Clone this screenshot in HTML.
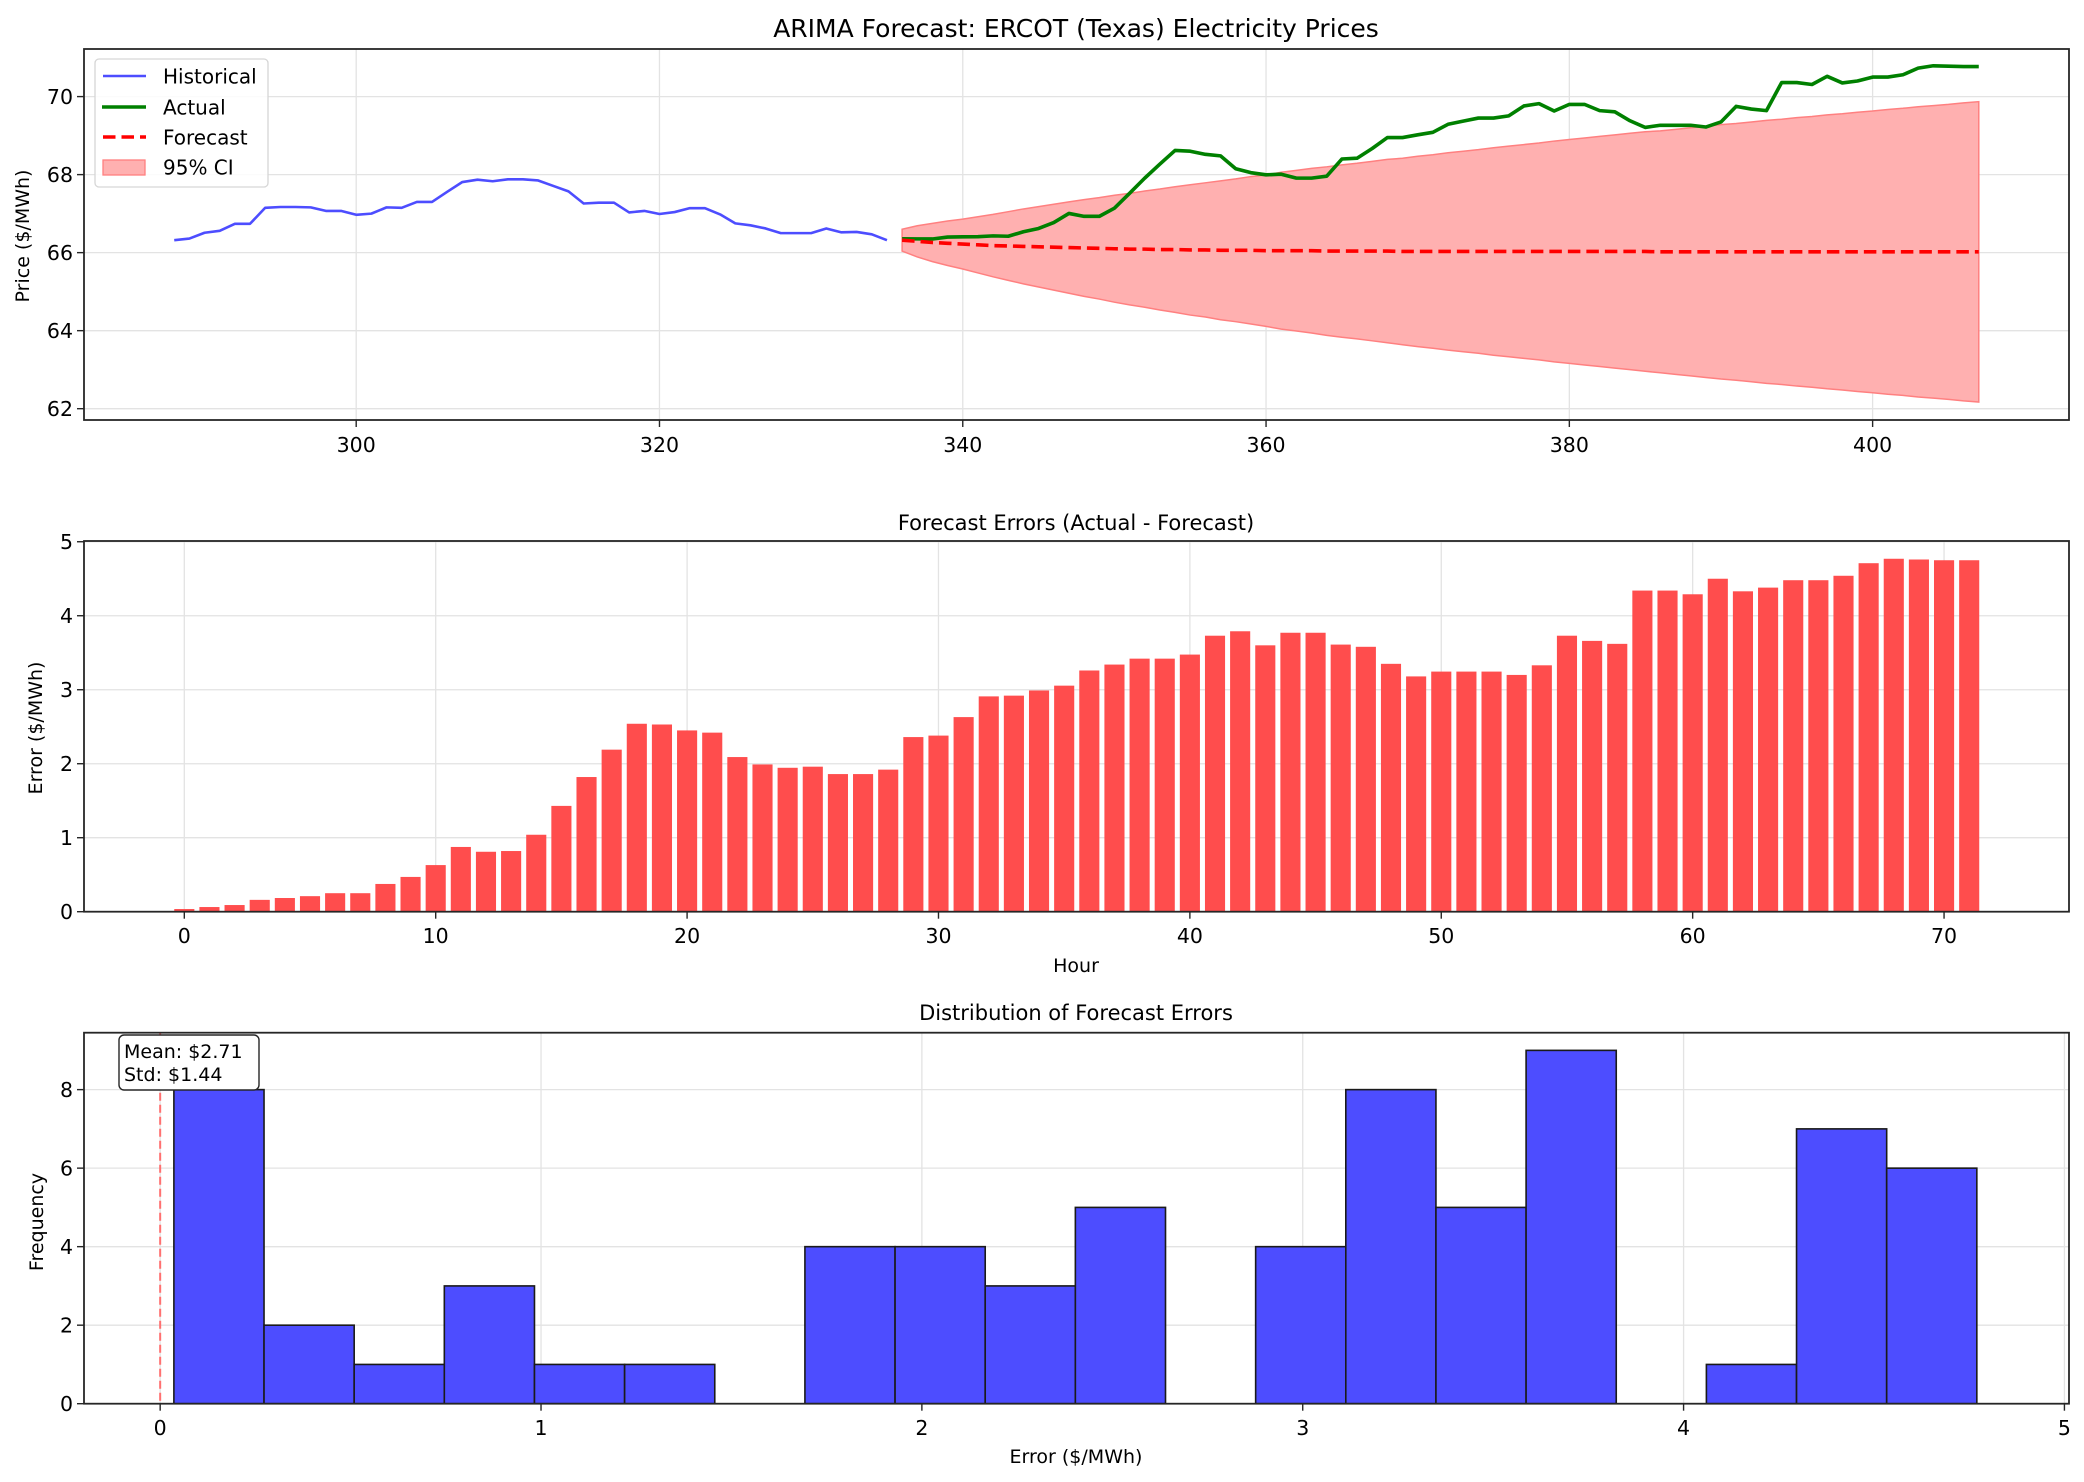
<!DOCTYPE html>
<html><head><meta charset="utf-8">
<style>
html,body{margin:0;padding:0;background:#fff;}
svg{display:block;font-family:"DejaVu Sans","Liberation Sans",sans-serif;}
</style></head>
<body>
<svg id="fig" width="2084" height="1482" viewBox="0 0 2084 1482" xmlns="http://www.w3.org/2000/svg">
<rect width="2084" height="1482" fill="#fff"/>
</svg>
<script>
// ---------- data ----------
const histHours = [288,289,290,291,292,293,294,295,296,297,298,299,300,301,302,303,304,305,306,307,308,309,310,311,312,313,314,315,316,317,318,319,320,321,322,323,324,325,326,327,328,329,330,331,332,333,334,335];
const histPrices = [66.32,66.36,66.51,66.56,66.74,66.74,67.15,67.17,67.17,67.16,67.07,67.07,66.97,67.0,67.16,67.15,67.3,67.3,67.56,67.81,67.87,67.83,67.88,67.88,67.85,67.71,67.57,67.26,67.28,67.28,67.03,67.07,66.99,67.04,67.14,67.14,66.98,66.75,66.70,66.62,66.50,66.50,66.50,66.62,66.52,66.53,66.47,66.32];
const forecast = [66.32,66.29,66.26,66.24,66.22,66.20,66.18,66.17,66.16,66.15,66.14,66.13,66.12,66.11,66.10,66.09,66.09,66.08,66.08,66.07,66.07,66.06,66.06,66.06,66.05,66.05,66.05,66.05,66.04,66.04,66.04,66.04,66.04,66.03,66.03,66.03,66.03,66.03,66.03,66.03,66.03,66.03,66.03,66.03,66.03,66.03,66.03,66.03,66.03,66.03,66.02,66.02,66.02,66.02,66.02,66.02,66.02,66.02,66.02,66.02,66.02,66.02,66.02,66.02,66.02,66.02,66.02,66.02,66.02,66.02,66.02,66.02];
const errors = [0.036,0.063,0.09,0.16,0.185,0.21,0.25,0.25,0.375,0.47,0.63,0.875,0.81,0.82,1.04,1.43,1.82,2.19,2.54,2.53,2.45,2.42,2.09,1.99,1.945,1.96,1.86,1.86,1.92,2.36,2.38,2.63,2.91,2.92,2.99,3.055,3.26,3.34,3.42,3.42,3.475,3.73,3.79,3.60,3.77,3.77,3.61,3.58,3.35,3.18,3.245,3.245,3.245,3.20,3.33,3.73,3.66,3.62,4.34,4.34,4.29,4.50,4.33,4.38,4.48,4.48,4.54,4.71,4.77,4.76,4.75,4.75];
const ciHalfWidth = [0.28,0.40,0.49,0.57,0.64,0.72,0.80,0.88,0.96,1.03,1.10,1.17,1.24,1.30,1.37,1.43,1.49,1.55,1.61,1.67,1.72,1.78,1.83,1.89,1.94,2.01,2.06,2.11,2.16,2.21,2.25,2.30,2.35,2.39,2.44,2.48,2.53,2.57,2.61,2.66,2.70,2.74,2.78,2.83,2.87,2.91,2.95,2.99,3.03,3.07,3.10,3.14,3.18,3.22,3.26,3.29,3.33,3.37,3.40,3.44,3.47,3.51,3.54,3.58,3.61,3.65,3.68,3.72,3.75,3.78,3.82,3.85];
const actual = forecast.map((f,i)=>+(f+errors[i]).toFixed(3));
const forecastHours = forecast.map((_,i)=>336+i);
const hoursIdx = errors.map((_,i)=>i);
const topXTicks = [300,320,340,360,380,400];
const topYTicks = [62,64,66,68,70];
const midXTicks = [0,10,20,30,40,50,60,70];
const midYTicks = [0,1,2,3,4,5];
const botXTicks = [0,1,2,3,4,5];
const botYTicks = [0,2,4,6,8];
const nBins = 20;

// ---------- helpers ----------
const NS = "http://www.w3.org/2000/svg";
const svg = document.getElementById('fig');
function el(tag, attrs, parent, text){
  const e = document.createElementNS(NS, tag);
  for (const k in attrs) e.setAttribute(k, attrs[k]);
  if (text !== undefined) e.textContent = text;
  (parent||svg).appendChild(e);
  return e;
}
function lin(d0,d1,r0,r1){ return v => r0 + (v-d0)/(d1-d0)*(r1-r0); }
const L = 84, R = 2069;

function frame(g, top, bottom){
  const r = el('rect',{x:L,y:top,width:R-L,height:bottom-top,fill:'none',stroke:'#262626','stroke-width':1.8},g);
  
  
}
function grid(g, xs, ys, top, bottom){
  xs.forEach(x=>{ const l=el('line',{x1:x,x2:x,y1:top,y2:bottom,stroke:'#e3e3e3','stroke-width':1.3},g);
      });
  ys.forEach(y=>{ const l=el('line',{x1:L,x2:R,y1:y,y2:y,stroke:'#e3e3e3','stroke-width':1.3},g);
      });
}
function ticks(g, xt, xs, yt, ys, bottom, xLabBase){
  xt.forEach((v,i)=>{
    const t=el('line',{x1:xs[i],x2:xs[i],y1:bottom,y2:bottom+7,stroke:'#262626','stroke-width':1.4},g);
     
    const tx=el('text',{x:xs[i],y:xLabBase,'font-size':20.5,'text-anchor':'middle',fill:'#000'},g,String(v));
     
  });
  yt.forEach((v,i)=>{
    const t=el('line',{x1:L-7,x2:L,y1:ys[i],y2:ys[i],stroke:'#262626','stroke-width':1.4},g);
     
    const tx=el('text',{x:L-11,y:ys[i]+7.5,'font-size':20.5,'text-anchor':'end',fill:'#000'},g,String(v));
     
  });
}

// ---------- top chart ----------
(function(){
  const top=49, bottom=420;
  const g = el('g',{});
  
  
  const x = lin(282.05,412.95,L,R);
  const y = lin(61.71,71.22,bottom,top);
  grid(g, topXTicks.map(x), topYTicks.map(y), top, bottom);
  let d = forecastHours.map((h,i)=>(i?'L':'M')+x(h)+','+y(forecast[i]+ciHalfWidth[i])).join(' ');
  for(let i=forecastHours.length-1;i>=0;i--) d += ' L'+x(forecastHours[i])+','+y(forecast[i]-ciHalfWidth[i]);
  const ci=el('path',{d:d+' Z',fill:'#ffb0b0',stroke:'#ff8080','stroke-width':1.5},g);
   
  const hp=el('polyline',{points:histHours.map((h,i)=>x(h)+','+y(histPrices[i])).join(' '),fill:'none',stroke:'#4d4dff','stroke-width':2.6,'stroke-linejoin':'round'},g);
   
  const ap=el('polyline',{points:forecastHours.map((h,i)=>x(h)+','+y(actual[i])).join(' '),fill:'none',stroke:'#008000','stroke-width':3.6,'stroke-linejoin':'round'},g);
   
  const fp=el('polyline',{points:forecastHours.map((h,i)=>x(h)+','+y(forecast[i])).join(' '),fill:'none',stroke:'#ff0000','stroke-width':3.6,'stroke-dasharray':'12.5 6'},g);
   
  frame(g, top, bottom);
  ticks(g, topXTicks, topXTicks.map(x), topYTicks, topYTicks.map(y), bottom, 452);
  const t=el('text',{x:1076,y:37,'font-size':25,'text-anchor':'middle'},g,'ARIMA Forecast: ERCOT (Texas) Electricity Prices');
   
  const yl=el('text',{x:0,y:0,'font-size':19,'text-anchor':'middle',transform:'translate(29,236) rotate(-90)'},g,'Price ($/MWh)');
   
  const lg=el('g',{},g);
   
  el('rect',{x:95,y:59,width:173,height:128,rx:4,fill:'#fff','fill-opacity':0.85,stroke:'#d6d6d6','stroke-width':1.3},lg);
  const items=[['Historical',76],['Actual',107],['Forecast',137],['95% CI',167]];
  el('line',{x1:103,x2:146,y1:76,y2:76,stroke:'#4d4dff','stroke-width':2.6},lg);
  el('line',{x1:102,x2:146,y1:107,y2:107,stroke:'#008000','stroke-width':3.6},lg);
  el('line',{x1:103,x2:146,y1:137,y2:137,stroke:'#ff0000','stroke-width':3.6,'stroke-dasharray':'12.5 6'},lg);
  el('rect',{x:103,y:160,width:42,height:15,fill:'#ffb0b0',stroke:'#ff8080','stroke-width':1.3},lg);
  items.forEach(it=>{
    const e=el('text',{x:163,y:it[1]+7.5,'font-size':20},lg,it[0]);
     
  });
})();

// ---------- middle chart ----------
(function(){
  const top=541, bottom=911.7;
  const g = el('g',{});
  
  
  const x = lin(-3.99,74.97,L,R);
  const y = lin(0,5.01,bottom,top);
  grid(g, midXTicks.map(x), midYTicks.map(y), top, bottom);
  hoursIdx.forEach((h,i)=>{
    const b=el('rect',{x:x(h-0.4),y:y(errors[i]),width:x(0.8)-x(0),height:bottom-y(errors[i]),fill:'#ff4d4d'},g);
     
  });
  frame(g, top, bottom);
  ticks(g, midXTicks, midXTicks.map(x), midYTicks, midYTicks.map(y), bottom, 943);
  const t=el('text',{x:1076,y:530,'font-size':21,'text-anchor':'middle'},g,'Forecast Errors (Actual - Forecast)');
   
  const xl=el('text',{x:1076,y:972,'font-size':19,'text-anchor':'middle'},g,'Hour');
   
  const yl=el('text',{x:0,y:0,'font-size':19,'text-anchor':'middle',transform:'translate(42,728) rotate(-90)'},g,'Error ($/MWh)');
   
})();

// ---------- bottom chart ----------
(function(){
  const top=1032.7, bottom=1403.7;
  const g = el('g',{});
  
  
  const x = lin(-0.2,5.012,L,R);
  const y = lin(0,9.45,bottom,top);
  grid(g, botXTicks.map(x), botYTicks.map(y), top, bottom);
  const mn=Math.min(...errors), mx=Math.max(...errors), w=(mx-mn)/nBins;
  const counts=new Array(nBins).fill(0);
  errors.forEach(e=>{ let k=Math.floor((e-mn)/w); if(k>=nBins)k=nBins-1; counts[k]++; });
  counts.forEach((c,k)=>{
    const x0=x(mn+k*w), x1=x(mn+(k+1)*w);
    const b=el('rect',{x:x0,y:y(c),width:x1-x0,height:bottom-y(c),fill:'#4d4dff',stroke:'#1a1a1a','stroke-width':1.6},g);
     
  });
  const zl=el('line',{x1:x(0),x2:x(0),y1:top,y2:bottom,stroke:'#ff7070','stroke-width':2,'stroke-dasharray':'8 4'},g);
   
  frame(g, top, bottom);
  ticks(g, botXTicks, botXTicks.map(x), botYTicks, botYTicks.map(y), bottom, 1435);
  const box=el('g',{},g);
   
  el('rect',{x:119,y:1035,width:140,height:55,rx:5,fill:'#fff',stroke:'#262626','stroke-width':1.4},box);
  el('text',{x:124,y:1058,'font-size':19},box,'Mean: $2.71');
  el('text',{x:124,y:1081,'font-size':19},box,'Std: $1.44');
  const t=el('text',{x:1076,y:1020,'font-size':21,'text-anchor':'middle'},g,'Distribution of Forecast Errors');
   
  const xl=el('text',{x:1076,y:1463,'font-size':19,'text-anchor':'middle'},g,'Error ($/MWh)');
   
  const yl=el('text',{x:0,y:0,'font-size':19,'text-anchor':'middle',transform:'translate(43,1222) rotate(-90)'},g,'Frequency');
   
})();
</script>
</body></html>
